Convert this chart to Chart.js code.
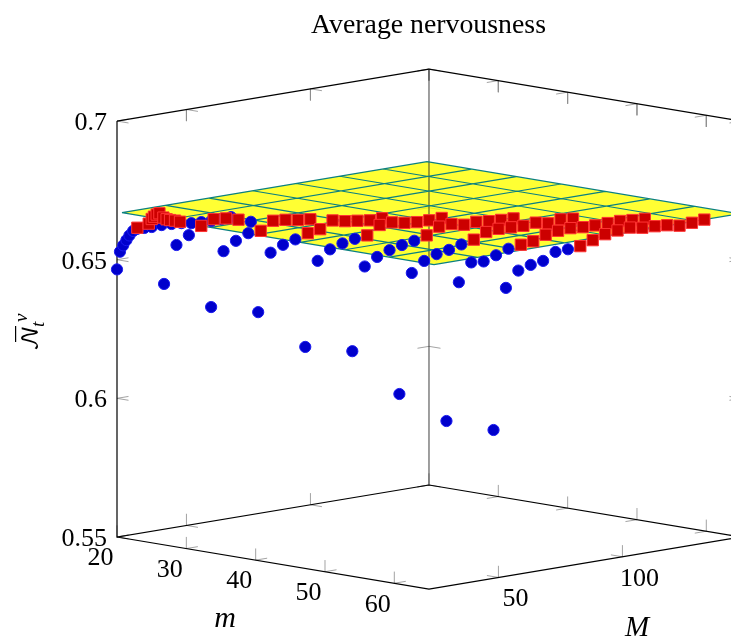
<!DOCTYPE html>
<html>
<head>
<meta charset="utf-8">
<title>Average nervousness</title>
<style>
  html, body { margin: 0; background: #fff; }
  canvas { display: block; }
</style>
<script src="https://cdn.jsdelivr.net/npm/chart.js@4/dist/chart.umd.js"></script>
</head>
<body>
<canvas id="chart" width="731" height="637"></canvas>
<script>
// axis limits of the 3d box
const mLimits = [20, 65];
const bigMLimits = [22, 147.8];
const nLimits = [0.55, 0.7];

const mTicks = [20, 30, 40, 50, 60];
const bigMTicks = [50, 100];
const nTicks = [0.55, 0.6, 0.65, 0.7];

// flat reference surface
const planeN = 0.6667;
const planeM = [20, 26.43, 32.86, 39.29, 45.71, 52.14, 58.57, 65];
const planeBigM = [24, 41.6, 59.1, 76.7, 94.3, 111.9, 129.4, 147];

// blue circles
const blueM = [
  20, 20, 20, 20, 20, 20, 20, 20, 20, 20, 20, 20, 20, 20, 20, 20, 20,
  25, 25, 25, 25,
  30, 30, 30, 30,
  35, 35, 35, 35,
  40, 40, 40, 40, 40,
  45, 45, 45, 45, 45, 45,
  50, 50, 50, 50, 50, 50,
  55, 55, 55, 55, 55, 55,
  60, 60, 60, 60, 60, 60, 60
];
const blueBigM = [
  22, 23.2, 24.5, 25.8, 27, 28.5, 30, 33, 36, 40, 44, 48, 52, 56, 60, 64, 68,
  27, 32, 37, 62,
  32, 37, 42, 47,
  37, 42, 47, 52,
  42, 47, 52, 57, 62,
  47, 52, 57, 62, 67, 72,
  52, 57, 62, 67, 72, 77,
  57, 62, 67, 72, 77, 82,
  62, 67, 72, 77, 82, 87, 92
];
const blueN = [
  0.6465, 0.6527, 0.6548, 0.6565, 0.658, 0.6594, 0.6599, 0.6598, 0.6597, 0.6598, 0.6596, 0.6593, 0.6587, 0.6585, 0.6583, 0.6584, 0.6585,
  0.6426, 0.6559, 0.6587, 0.6598,
  0.6356, 0.655, 0.658, 0.66,
  0.6351, 0.6558, 0.6579, 0.6591,
  0.6239, 0.6542, 0.6576, 0.659, 0.6599,
  0.6237, 0.6535, 0.6562, 0.6579, 0.659, 0.6598,
  0.6096, 0.6525, 0.6561, 0.6578, 0.6586, 0.6598,
  0.6012, 0.6505, 0.6569, 0.6565, 0.658, 0.6596,
  0.5993, 0.6498, 0.6553, 0.6566, 0.6573, 0.6598, 0.66
];

// red squares
const redM = [
  20, 20, 20, 20, 20, 20, 20, 20, 20, 20, 20,
  25, 25, 25, 25,
  30, 30, 30, 30, 30,
  35, 35, 35, 35, 35, 35, 35,
  40, 40, 40, 40, 40, 40, 40,
  45, 45, 45, 45, 45, 45, 45, 45,
  50, 50, 50, 50, 50, 50, 50, 50, 50,
  55, 55, 55, 55, 55, 55, 55, 55, 55, 55, 55,
  60, 60, 60, 60, 60, 60, 60, 60, 60, 60, 60
];
const redBigM = [
  30.2, 34.8, 36, 36.9, 38, 39.1, 40.7, 42, 43.4, 45.4, 47.4,
  42, 47, 52, 57,
  52, 57, 62, 67, 72,
  57, 62, 67, 72, 77, 82, 87,
  67, 72, 77, 82, 87, 92, 97,
  77, 82, 87, 92, 97, 102, 107, 112,
  82, 87, 92, 97, 102, 107, 112, 117, 122,
  87, 92, 97, 102, 107, 112, 117, 122, 127, 132, 137,
  97, 102, 107, 112, 117, 122, 127, 132, 137, 142, 147
];
const redN = [
  0.6603, 0.6611, 0.6626, 0.6633, 0.6639, 0.6642, 0.6624, 0.6616, 0.6611, 0.6606, 0.6599,
  0.6613, 0.663, 0.6625, 0.6613,
  0.6601, 0.663, 0.6626, 0.6618, 0.6613,
  0.6606, 0.6613, 0.6637, 0.6627, 0.6621, 0.6615, 0.6615,
  0.6604, 0.6634, 0.6636, 0.6627, 0.6622, 0.6621, 0.6622,
  0.661, 0.6634, 0.6636, 0.6626, 0.6629, 0.6624, 0.6621, 0.6619,
  0.6608, 0.6628, 0.6632, 0.663, 0.6628, 0.6632, 0.6622, 0.6629, 0.6624,
  0.6603, 0.6608, 0.6624, 0.6631, 0.6633, 0.6629, 0.6628, 0.6629, 0.6629, 0.6625, 0.6622,
  0.6604, 0.6618, 0.6632, 0.6638, 0.6641, 0.6633, 0.6631, 0.6627, 0.6618, 0.6621, 0.6625
];

// view of the box, in page units
function project(m, bigM, n) {
  return {
    x: 117 + (m - 20) * 6.933 + (bigM - 22) * 2.48,
    y: 537 + (m - 20) * 1.156 - (bigM - 22) * 0.4134 - (n - 0.55) * 2773
  };
}

const [m0, m1] = mLimits;
const [b0, b1] = bigMLimits;
const [n0, n1] = nLimits;
const GAP = { x: NaN, y: NaN };

// tick lengths: about 11.5px along each direction
const dN = 0.0042, dM = 1.66, dB = 4.64;
const tickPts = [];
function tick(m, b, n, a, c, d) {
  tickPts.push(project(m, b, n), project(m + a, b + c, n + d), GAP);
}
mTicks.forEach(m => {
  tick(m, b0, n0, 0, 0, dN); tick(m, b0, n0, 0, dB, 0);
  tick(m, b1, n0, 0, 0, dN); tick(m, b1, n0, 0, -dB, 0);
  tick(m, b1, n1, 0, 0, -dN); tick(m, b1, n1, 0, -dB, 0);
});
bigMTicks.forEach(b => {
  tick(m0, b, n0, 0, 0, dN); tick(m0, b, n0, dM, 0, 0);
  tick(m0, b, n1, 0, 0, -dN); tick(m0, b, n1, dM, 0, 0);
  tick(m1, b, n0, 0, 0, dN); tick(m1, b, n0, -dM, 0, 0);
});
nTicks.forEach(n => {
  tick(m0, b0, n, 0, dB, 0); tick(m0, b0, n, dM, 0, 0);
  tick(m0, b1, n, 0, -dB, 0); tick(m0, b1, n, dM, 0, 0);
  tick(m1, b1, n, 0, -dB, 0); tick(m1, b1, n, -dM, 0, 0);
});

const boxPts = [
  project(m0, b0, n1), project(m0, b1, n1), project(m1, b1, n1), project(m1, b1, n0),
  project(m0, b1, n0), project(m0, b0, n0), project(m0, b0, n1), GAP,
  project(m0, b0, n0), project(m1, b0, n0), project(m1, b1, n0)
];
const backEdge = [project(m0, b1, n0), project(m0, b1, n1)];

const pFirst = planeM[0], pLast = planeM[planeM.length - 1];
const qFirst = planeBigM[0], qLast = planeBigM[planeBigM.length - 1];
const planeOutline = [
  project(pFirst, qFirst, planeN), project(pFirst, qLast, planeN),
  project(pLast, qLast, planeN), project(pLast, qFirst, planeN),
  project(pFirst, qFirst, planeN)
];
const planeGrid = [];
planeM.forEach(m => planeGrid.push(project(m, qFirst, planeN), project(m, qLast, planeN), GAP));
planeBigM.forEach(b => planeGrid.push(project(pFirst, b, planeN), project(pLast, b, planeN), GAP));

const serif = '"Liberation Serif", serif';

// title, tick labels and axis names go through the same scales as the marks
const labelsPlugin = {
  id: 'labels',
  afterDraw(chart) {
    const ctx = chart.ctx;
    const sx = chart.scales.x, sy = chart.scales.y;
    const put = (text, p, dx, dy, font, align) => {
      ctx.font = font;
      ctx.textAlign = align || 'center';
      ctx.textBaseline = 'middle';
      ctx.fillText(text, sx.getPixelForValue(p.x) + dx, sy.getPixelForValue(p.y) + dy);
    };
    ctx.save();
    ctx.fillStyle = '#000';
    const tickFont = '26px ' + serif;
    nTicks.forEach(n => put(String(n), project(m0, b0, n), -10, 2, tickFont, 'right'));
    mTicks.forEach(m => put(String(m), project(m, b0, n0), -16.5, 21.5, tickFont));
    bigMTicks.forEach(b => put(String(b), project(m1, b, n0), 17, 22, tickFont));
    put('m', { x: 225, y: 619 }, 0, 0, 'italic 30px ' + serif);
    put('M', { x: 637, y: 628 }, 0, 0, 'italic 29px ' + serif);
    ctx.restore();

    ctx.save();
    ctx.fillStyle = '#000';
    ctx.font = '27.8px ' + serif;
    ctx.textAlign = 'center';
    ctx.textBaseline = 'middle';
    ctx.fillText('Average nervousness', 428.5, 26);
    // y axis name, rotated
    ctx.translate(31, 335);
    ctx.rotate(-Math.PI / 2);
    ctx.font = '23px "DejaVu Math TeX Gyre", ' + serif;
    ctx.textAlign = 'left';
    ctx.fillText('\u{1D4A9}', -16, 0);
    ctx.fillRect(-7, -16, 16, 1.2);
    ctx.font = 'italic 19px ' + serif;
    ctx.fillText('v', 13, -9);
    ctx.fillText('t', 8, 8);
    ctx.restore();
  }
};

new Chart(document.getElementById('chart'), {
  type: 'scatter',
  data: {
    datasets: [
      { data: tickPts, showLine: true, borderColor: '#8c8c8c', borderWidth: 0.8, pointRadius: 0, order: 7 },
      { data: boxPts, showLine: true, borderColor: '#000', borderWidth: 1.2, pointRadius: 0, order: 6 },
      { data: planeOutline, showLine: true, borderColor: 'rgba(0,0,0,0)', borderWidth: 0, pointRadius: 0, fill: 'shape', backgroundColor: 'rgba(255,255,0,0.8)', order: 5 },
      { data: backEdge, showLine: true, borderColor: 'rgba(40,40,40,0.75)', borderWidth: 1.2, pointRadius: 0, order: 4 },
      { data: planeGrid, showLine: true, borderColor: '#0b8080', borderWidth: 1.2, pointRadius: 0, order: 3 },
      {
        label: 'blue',
        data: blueN.map((n, i) => project(blueM[i], blueBigM[i], n)),
        pointStyle: 'circle', pointRadius: 5.6, pointBorderWidth: 1,
        pointBackgroundColor: '#0000cc', pointBorderColor: '#1a1aee', order: 2
      },
      {
        label: 'red',
        data: redN.map((n, i) => project(redM[i], redBigM[i], n)),
        pointStyle: 'rect', pointRadius: 8, pointBorderWidth: 1,
        pointBackgroundColor: '#cc0000', pointBorderColor: '#ff3333', order: 1
      }
    ]
  },
  options: {
    responsive: false,
    animation: false,
    layout: { padding: 0, autoPadding: false },
    plugins: { legend: { display: false }, tooltip: { enabled: false } },
    scales: {
      x: { type: 'linear', min: 0, max: 731, display: false },
      y: { type: 'linear', min: 0, max: 637, reverse: true, display: false }
    }
  },
  plugins: [labelsPlugin]
});
</script>
</body>
</html>
